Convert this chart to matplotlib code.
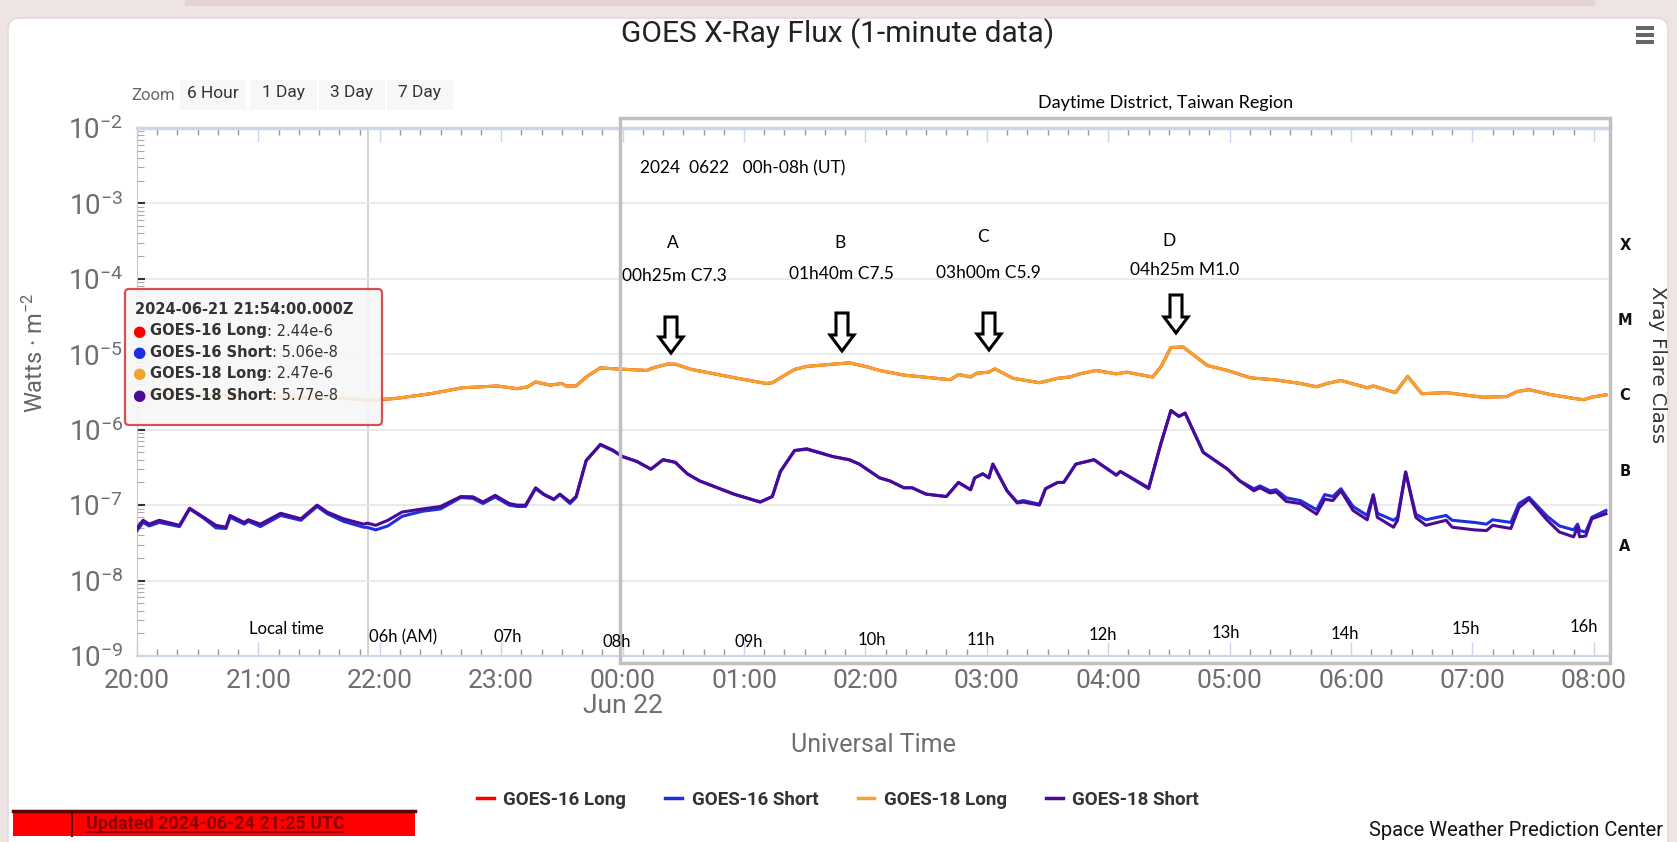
import numpy as np
import pandas as pd
import matplotlib
matplotlib.use('Agg')
import matplotlib.pyplot as plt
import matplotlib.dates as mdates
from matplotlib.patches import Rectangle, FancyBboxPatch, Polygon
from matplotlib.lines import Line2D
from matplotlib.ticker import LogLocator, FuncFormatter
from matplotlib.transforms import IdentityTransform, blended_transform_factory

# ---------------- data (UTC, 2024-06-21 20:00 -> 06-22 08:06)
long_times = ['20:00', '20:30', '21:00', '21:30', '21:44', '21:54', '22:08', '22:25', '22:41', '22:58',
              '23:08', '23:13', '23:17', '23:24', '23:30', '23:32', '23:37', '23:42', '23:49', '23:57',
              '00:12', '00:15', '00:22', '00:26', '00:34', '00:41', '00:55', '01:11', '01:14', '01:25',
              '01:31', '01:44', '01:52', '02:01', '02:07', '02:19', '02:42', '02:46', '02:52', '02:55',
              '03:01', '03:04', '03:13', '03:26', '03:35', '03:41', '03:46', '03:54', '04:04', '04:09',
              '04:22', '04:26', '04:31', '04:37', '04:49', '04:59', '05:10', '05:13', '05:22', '05:35',
              '05:43', '05:48', '05:55', '06:08', '06:11', '06:22', '06:28', '06:35', '06:47', '07:05',
              '07:17', '07:22', '07:28', '07:38', '07:50', '07:55', '07:59', '08:06']
g18_long = [3.1e-6, 2.9e-6, 2.8e-6, 2.6e-6, 2.6e-6, 2.47e-6, 2.6e-6, 3.0e-6, 3.6e-6, 3.8e-6,
            3.5e-6, 3.7e-6, 4.3e-6, 3.9e-6, 4.1e-6, 3.8e-6, 3.8e-6, 5.0e-6, 6.6e-6, 6.4e-6,
            6.1e-6, 6.6e-6, 7.4e-6, 7.4e-6, 6.3e-6, 5.8e-6, 4.9e-6, 4.1e-6, 4.2e-6, 6.3e-6,
            6.9e-6, 7.4e-6, 7.7e-6, 6.8e-6, 6.1e-6, 5.3e-6, 4.6e-6, 5.4e-6, 5.0e-6, 5.6e-6,
            5.8e-6, 6.4e-6, 4.8e-6, 4.2e-6, 4.8e-6, 5.0e-6, 5.5e-6, 6.1e-6, 5.5e-6, 5.8e-6,
            5.0e-6, 6.8e-6, 1.23e-5, 1.25e-5, 7.1e-6, 6.1e-6, 4.9e-6, 4.8e-6, 4.6e-6, 4.1e-6,
            3.7e-6, 4.1e-6, 4.5e-6, 3.6e-6, 3.8e-6, 3.1e-6, 5.1e-6, 3.0e-6, 3.1e-6, 2.7e-6,
            2.75e-6, 3.2e-6, 3.4e-6, 2.95e-6, 2.6e-6, 2.5e-6, 2.7e-6, 2.9e-6]
g16_long = [3.1e-6, 2.9e-6, 2.8e-6, 2.6e-6, 2.6e-6, 2.44e-6, 2.6e-6, 3.0e-6, 3.6e-6, 3.8e-6,
            3.5e-6, 3.7e-6, 4.3e-6, 3.9e-6, 4.1e-6, 3.8e-6, 3.8e-6, 5.0e-6, 6.6e-6, 6.4e-6,
            6.1e-6, 6.6e-6, 7.4e-6, 7.4e-6, 6.3e-6, 5.8e-6, 4.9e-6, 4.1e-6, 4.2e-6, 6.3e-6,
            6.9e-6, 7.4e-6, 7.7e-6, 6.8e-6, 6.1e-6, 5.3e-6, 4.6e-6, 5.4e-6, 5.0e-6, 5.6e-6,
            5.8e-6, 6.4e-6, 4.8e-6, 4.2e-6, 4.8e-6, 5.0e-6, 5.5e-6, 6.1e-6, 5.5e-6, 5.8e-6,
            5.0e-6, 6.8e-6, 1.23e-5, 1.25e-5, 7.1e-6, 6.1e-6, 4.9e-6, 4.8e-6, 4.6e-6, 4.1e-6,
            3.7e-6, 4.1e-6, 4.5e-6, 3.6e-6, 3.8e-6, 3.1e-6, 5.1e-6, 3.0e-6, 3.1e-6, 2.7e-6,
            2.75e-6, 3.2e-6, 3.4e-6, 2.95e-6, 2.6e-6, 2.5e-6, 2.7e-6, 2.9e-6]

short_times = ['20:00', '20:03', '20:06', '20:11', '20:21', '20:26', '20:33', '20:39', '20:44', '20:46',
               '20:53', '20:55', '21:01', '21:11', '21:21', '21:29', '21:34', '21:42', '21:52', '21:54',
               '21:58', '22:04', '22:11', '22:21', '22:30', '22:40', '22:46', '22:51', '22:57', '23:04',
               '23:08', '23:12', '23:17', '23:21', '23:26', '23:29', '23:34', '23:37', '23:42', '23:49',
               '23:55', '00:00', '00:07', '00:14', '00:20', '00:26', '00:32', '00:38', '00:55', '01:08',
               '01:14', '01:18', '01:25', '01:31', '01:44', '01:52', '01:57', '02:07', '02:12', '02:19',
               '02:23', '02:30', '02:40', '02:46', '02:52', '02:54', '02:58', '03:01', '03:03', '03:10',
               '03:15', '03:18', '03:26', '03:29', '03:35', '03:38', '03:44', '03:53', '04:04', '04:06',
               '04:20', '04:26', '04:31', '04:35', '04:38', '04:47', '04:50', '04:59', '05:05', '05:12',
               '05:15', '05:20', '05:23', '05:28', '05:35', '05:43', '05:47', '05:51', '05:55', '06:01',
               '06:08', '06:11', '06:13', '06:21', '06:23', '06:27', '06:32', '06:37', '06:47', '06:50',
               '07:01', '07:07', '07:10', '07:19', '07:23', '07:28', '07:37', '07:43', '07:50', '07:52',
               '07:53', '07:56', '07:59', '08:06']
g18_short = [5.0e-8, 6.3e-8, 5.6e-8, 6.3e-8, 5.4e-8, 9.1e-8, 6.9e-8, 5.4e-8, 5.1e-8, 7.3e-8,
             5.9e-8, 6.4e-8, 5.6e-8, 7.8e-8, 6.6e-8, 1.0e-7, 8.1e-8, 6.6e-8, 5.6e-8, 5.77e-8,
             5.4e-8, 6.3e-8, 8.1e-8, 8.9e-8, 9.6e-8, 1.3e-7, 1.29e-7, 1.1e-7, 1.35e-7, 1.05e-7,
             1.0e-7, 1.0e-7, 1.7e-7, 1.4e-7, 1.2e-7, 1.4e-7, 1.1e-7, 1.3e-7, 3.9e-7, 6.4e-7,
             5.4e-7, 4.4e-7, 3.8e-7, 3.0e-7, 4.0e-7, 3.7e-7, 2.6e-7, 2.1e-7, 1.4e-7, 1.1e-7,
             1.3e-7, 2.8e-7, 5.3e-7, 5.6e-7, 4.4e-7, 4.0e-7, 3.5e-7, 2.3e-7, 2.1e-7, 1.7e-7,
             1.7e-7, 1.4e-7, 1.3e-7, 2.0e-7, 1.6e-7, 2.3e-7, 2.6e-7, 2.3e-7, 3.5e-7, 1.55e-7,
             1.07e-7, 1.1e-7, 1.0e-7, 1.65e-7, 2.0e-7, 2.0e-7, 3.5e-7, 4.0e-7, 2.5e-7, 2.8e-7,
             1.7e-7, 6.5e-7, 1.8e-6, 1.5e-6, 1.66e-6, 5.0e-7, 4.4e-7, 3.0e-7, 2.1e-7, 1.55e-7,
             1.7e-7, 1.45e-7, 1.5e-7, 1.12e-7, 1.05e-7, 7.6e-8, 1.2e-7, 1.15e-7, 1.55e-7, 8.5e-8,
             6.4e-8, 1.35e-7, 6.9e-8, 5.1e-8, 6.3e-8, 2.75e-7, 6.9e-8, 5.4e-8, 6.3e-8, 5.1e-8,
             4.7e-8, 4.6e-8, 5.4e-8, 4.9e-8, 9.3e-8, 1.2e-7, 6.3e-8, 4.4e-8, 3.8e-8, 5.1e-8,
             3.8e-8, 3.9e-8, 6.6e-8, 7.7e-8]
g16_short = [4.6e-8, 5.9e-8, 5.3e-8, 5.9e-8, 5.2e-8, 8.9e-8, 6.7e-8, 5.0e-8, 4.9e-8, 6.9e-8,
             5.6e-8, 6.1e-8, 5.2e-8, 7.3e-8, 6.3e-8, 9.6e-8, 7.7e-8, 6.1e-8, 5.1e-8, 5.06e-8,
             4.7e-8, 5.3e-8, 7.1e-8, 8.3e-8, 8.9e-8, 1.26e-7, 1.23e-7, 1.05e-7, 1.28e-7, 1.0e-7,
             9.6e-8, 9.6e-8, 1.65e-7, 1.38e-7, 1.18e-7, 1.38e-7, 1.05e-7, 1.27e-7, 3.9e-7, 6.3e-7,
             5.3e-7, 4.4e-7, 3.8e-7, 3.0e-7, 4.0e-7, 3.7e-7, 2.6e-7, 2.1e-7, 1.4e-7, 1.1e-7,
             1.3e-7, 2.8e-7, 5.3e-7, 5.5e-7, 4.4e-7, 4.0e-7, 3.5e-7, 2.3e-7, 2.1e-7, 1.7e-7,
             1.7e-7, 1.4e-7, 1.3e-7, 2.0e-7, 1.6e-7, 2.3e-7, 2.6e-7, 2.3e-7, 3.5e-7, 1.55e-7,
             1.1e-7, 1.15e-7, 1.03e-7, 1.65e-7, 2.0e-7, 2.0e-7, 3.5e-7, 4.0e-7, 2.5e-7, 2.8e-7,
             1.65e-7, 6.5e-7, 1.8e-6, 1.5e-6, 1.66e-6, 5.0e-7, 4.4e-7, 3.0e-7, 2.1e-7, 1.65e-7,
             1.8e-7, 1.55e-7, 1.6e-7, 1.25e-7, 1.15e-7, 8.7e-8, 1.38e-7, 1.3e-7, 1.65e-7, 9.6e-8,
             7.3e-8, 1.38e-7, 7.8e-8, 6.3e-8, 6.9e-8, 2.75e-7, 7.6e-8, 6.4e-8, 7.3e-8, 6.3e-8,
             5.9e-8, 5.6e-8, 6.4e-8, 5.9e-8, 1.05e-7, 1.27e-7, 7.1e-8, 5.3e-8, 4.7e-8, 5.6e-8,
             4.6e-8, 4.4e-8, 6.9e-8, 8.5e-8]

series_names = ['GOES-16 Long', 'GOES-16 Short', 'GOES-18 Long', 'GOES-18 Short']
series_colors = ['#ff0000', '#1f2fe0', '#f4a42c', '#4a0a96']

tooltip_time = '21:54'
tooltip_title = '2024-06-21 21:54:00.000Z'
tooltip_values = ['2.44e-6', '5.06e-8', '2.47e-6', '5.77e-8']

class_labels = ['X', 'M', 'C', 'B', 'A']
class_levels = [2.8e-4, 2.8e-5, 2.8e-6, 2.8e-7, 2.8e-8]

flare_letters = ['A', 'B', 'C', 'D']
flare_texts = ['00h25m C7.3', '01h40m C7.5', '03h00m C5.9', '04h25m M1.0']

local_labels = ['Local time', '06h (AM)', '07h', '08h', '09h', '10h', '11h',
                '12h', '13h', '14h', '15h', '16h']


def to_dt(hhmm):
    day = '2024-06-21' if int(hhmm[:2]) >= 12 else '2024-06-22'
    return pd.Timestamp(day + ' ' + hhmm)


t_long = [to_dt(t) for t in long_times]
t_short = [to_dt(t) for t in short_times]

# ---------------- fonts
UI = ['Roboto', 'DejaVu Sans']
NOTE = ['Lato', 'DejaVu Sans']
TIP = ['DejaVu Sans']
plt.rcParams['font.family'] = UI
plt.rcParams['mathtext.fontset'] = 'custom'
plt.rcParams['mathtext.rm'] = 'Roboto'
plt.rcParams['mathtext.default'] = 'regular'

W, H = 1677, 842
fig = plt.figure(figsize=(W / 100, H / 100), dpi=100)
fig.patch.set_facecolor('#efe4e4')


def fp(x, y):
    # reference pixel (from top-left) -> figure fraction
    return x / W, 1 - y / H


# page card
fig.add_artist(FancyBboxPatch((8, -20), W - 17, H - 18 + 20, boxstyle='round,pad=0,rounding_size=12',
                              transform=IdentityTransform(), fc='white', ec='#e2d6d6', lw=1, zorder=0))
fig.add_artist(Rectangle((185, H - 6), 1410, 6, transform=IdentityTransform(), fc='#e3d3d3', ec='none', zorder=0))

# ---------------- axes
x0_px, x1_px, ytop_px, ybot_px = 137, 1610, 128, 656
ax = fig.add_axes([x0_px / W, 1 - ybot_px / H, (x1_px - x0_px) / W, (ybot_px - ytop_px) / H])
ax.set_facecolor('none')
ax.set_yscale('log')
ax.set_ylim(1e-9, 1e-2)
ax.set_xlim(to_dt('20:00'), to_dt('08:08'))

ax.plot(t_long, g16_long, color=series_colors[0], lw=2.2, zorder=2)
ax.plot(t_long, g18_long, color=series_colors[2], lw=2.2, zorder=3)
ax.plot(t_short, g16_short, color=series_colors[1], lw=2.2, zorder=4)
ax.plot(t_short, g18_short, color=series_colors[3], lw=2.2, zorder=5)

ax.axvline(to_dt(tooltip_time), color='#cccccc', lw=1.2, zorder=1)

ax.yaxis.set_major_locator(LogLocator(base=10, numticks=20))
ax.yaxis.set_minor_locator(LogLocator(base=10, subs=np.arange(2, 10), numticks=20))
ax.yaxis.set_major_formatter(FuncFormatter(lambda v, p: r'$10^{%d}$' % round(np.log10(v))))
ax.yaxis.grid(True, which='major', color='#e6e6e6', lw=1.2)
ax.tick_params(axis='y', which='major', direction='in', length=6, width=1.5, color='#333333',
               labelsize=20, labelcolor='#6e6e6e', pad=10)
ax.tick_params(axis='y', which='minor', direction='in', length=5, width=0.8, color='#aaaaaa')

ax.xaxis.set_major_locator(mdates.HourLocator())
ax.xaxis.set_minor_locator(mdates.MinuteLocator(byminute=range(0, 60, 10)))
ax.xaxis.set_major_formatter(mdates.DateFormatter('%H:%M'))
ax.tick_params(axis='x', which='major', direction='in', length=10, width=1, color='#ccd6eb',
               labelsize=19, labelcolor='#6e6e6e', pad=9, top=True)
ax.tick_params(axis='x', which='minor', direction='in', length=5, width=1, color='#999999', top=True)
ax.text(to_dt('00:00'), -0.094, 'Jun 22', transform=blended_transform_factory(ax.transData, ax.transAxes),
        ha='center', va='center', fontsize=19, color='#6e6e6e')

for side in ['left', 'bottom', 'top']:
    ax.spines[side].set_color('#ccd6eb')
ax.spines['top'].set_linewidth(2.5)
ax.spines['bottom'].set_linewidth(1.5)
ax.spines['left'].set_color('#c8c8c8')
ax.spines['right'].set_visible(False)

fig.text(*fp(35, 353), 'Watts · m$^{-2}$', rotation=90, ha='center', va='center', fontsize=17,
         color='#666666')
fig.text(*fp(873, 745), 'Universal Time', ha='center', va='center', fontsize=18, color='#6e6e6e')

# flare class letters on the right
tr = blended_transform_factory(ax.transAxes, ax.transData)
for lab, lev in zip(class_labels, class_levels):
    ax.text(1.0102, lev, lab, transform=tr, ha='center', va='center', fontsize=10.5,
            fontweight='bold', color='#111111', family=TIP)
fig.text(*fp(1657, 365), 'Xray Flare Class', rotation=-90, ha='center', va='center',
         fontsize=14, color='#333333', family=TIP)

# title, menu, zoom buttons
fig.text(*fp(838, 34), 'GOES X-Ray Flux (1-minute data)', ha='center', va='center', fontsize=21.5, color='#222222')
for yy in (28, 35, 42):
    fig.add_artist(Rectangle((1636, H - yy - 1.5), 18, 3.5, transform=IdentityTransform(), fc='#666666', ec='none'))
fig.text(*fp(153, 95), 'Zoom', ha='center', va='center', fontsize=12, color='#666666')
for lab, (bx0, bx1) in zip(['6 Hour', '1 Day', '3 Day', '7 Day'], [(180, 246), (250, 317), (319, 385), (387, 453)]):
    fig.add_artist(Rectangle((bx0, H - 110), bx1 - bx0, 30, transform=IdentityTransform(), fc='#f7f7f7', ec='none'))
    fig.text(*fp((bx0 + bx1) / 2, 93), lab, ha='center', va='center', fontsize=12.5, color='#333333')

# overlay box and annotations
fig.add_artist(Rectangle((620, H - 663), 990, 545, transform=IdentityTransform(), fill=False,
                         ec='#c0c0c0', lw=2.5, zorder=6))
fig.text(*fp(1166, 103), 'Daytime District, Taiwan Region', ha='center', va='center', fontsize=13,
         color='black', family=NOTE)
fig.text(*fp(640, 168), '2024  0622   00h-08h (UT)', ha='left', va='center', fontsize=12.5,
         color='black', family=NOTE)
letter_pos = [(673, 243), (840, 243), (983, 237), (1169, 241)]
text_pos = [(674, 276), (841, 274), (988, 273), (1185, 270)]
arrow_pos = [(671, 317, 353), (842, 313, 351), (989, 313, 350), (1176, 295, 333)]
for let, txt, lp, tp, ap in zip(flare_letters, flare_texts, letter_pos, text_pos, arrow_pos):
    fig.text(*fp(*lp), let, ha='center', va='center', fontsize=12.5, color='black', family=NOTE)
    fig.text(*fp(*tp), txt, ha='center', va='center', fontsize=12.5, color='black', family=NOTE)
    cx, ya, yb = ap
    pts = [(cx - 6, ya), (cx + 6, ya), (cx + 6, yb - 16), (cx + 12, yb - 16), (cx, yb),
           (cx - 12, yb - 16), (cx - 6, yb - 16)]
    fig.add_artist(Polygon([fp(x, y) for x, y in pts], closed=True, transform=fig.transFigure,
                           fc='white', ec='black', lw=2.2, zorder=7))

local_pos = [(286, 629), (403, 637), (508, 637), (617, 642), (749, 642), (872, 640), (981, 640),
             (1103, 635), (1226, 633), (1345, 634), (1466, 629), (1584, 627)]
for lab, pos in zip(local_labels, local_pos):
    fig.text(*fp(*pos), lab, ha='center', va='center', fontsize=12, color='black', family=NOTE, zorder=7)

# tooltip
fig.add_artist(FancyBboxPatch((125, H - 425), 257, 136, boxstyle='round,pad=0,rounding_size=4',
                              transform=IdentityTransform(), fc='#f7f7f7', alpha=0.88, ec='#d03a3a', lw=1.6, zorder=8))
fig.text(*fp(135, 309), tooltip_title, ha='left', va='center', fontsize=10.5, fontweight='bold',
         color='#333333', family=TIP, zorder=9)
renderer = fig.canvas.get_renderer()
for i, (name, val, col) in enumerate(zip(series_names, tooltip_values, series_colors)):
    yy = 331 + i * 21.5
    fig.text(*fp(139, yy), '●', ha='center', va='center', fontsize=11, color=col, family=TIP, zorder=9)
    t = fig.text(*fp(150, yy), name, ha='left', va='center', fontsize=10.5, fontweight='bold',
                 color='#333333', family=TIP, zorder=9)
    xe = t.get_window_extent(renderer).x1
    fig.text(xe / W, 1 - yy / H, ': ' + val, ha='left', va='center', fontsize=10.5,
             color='#333333', family=TIP, zorder=9)

# legend
handles = [Line2D([], [], color=c, lw=2.5) for c in series_colors]
fig.legend(handles, series_names, loc='center', bbox_to_anchor=fp(838, 800), ncol=4, frameon=False,
           handlelength=0.9, handletextpad=0.5, columnspacing=2.1,
           prop={'family': UI, 'size': 13.5, 'weight': 'bold'}, labelcolor='#333333')

# footer
fig.text(*fp(1663, 830), 'Space Weather Prediction Center', ha='right', va='center', fontsize=14.5, color='#111111')
fig.add_artist(Rectangle((13, H - 836), 402, 25, transform=IdentityTransform(), fc='#ff0000', ec='none', zorder=5))
fig.add_artist(Line2D([13, 415], [H - 811, H - 811], transform=IdentityTransform(), color='#5a0000', lw=2.5, zorder=6))
fig.add_artist(Line2D([72, 72], [H - 836, H - 813], transform=IdentityTransform(), color='#5a0000', lw=1.5, zorder=6))
ft = fig.text(*fp(215, 824), 'Updated 2024-06-24 21:25 UTC', ha='center', va='center', fontsize=13,
              fontweight='bold', color='#8b0000', zorder=7)
bb = ft.get_window_extent(renderer)
fig.add_artist(Line2D([bb.x0, bb.x1], [bb.y0 + 1, bb.y0 + 1], transform=IdentityTransform(),
                      color='#8b0000', lw=1.2, zorder=7))

fig.savefig('out.png', dpi=100, facecolor=fig.get_facecolor())
